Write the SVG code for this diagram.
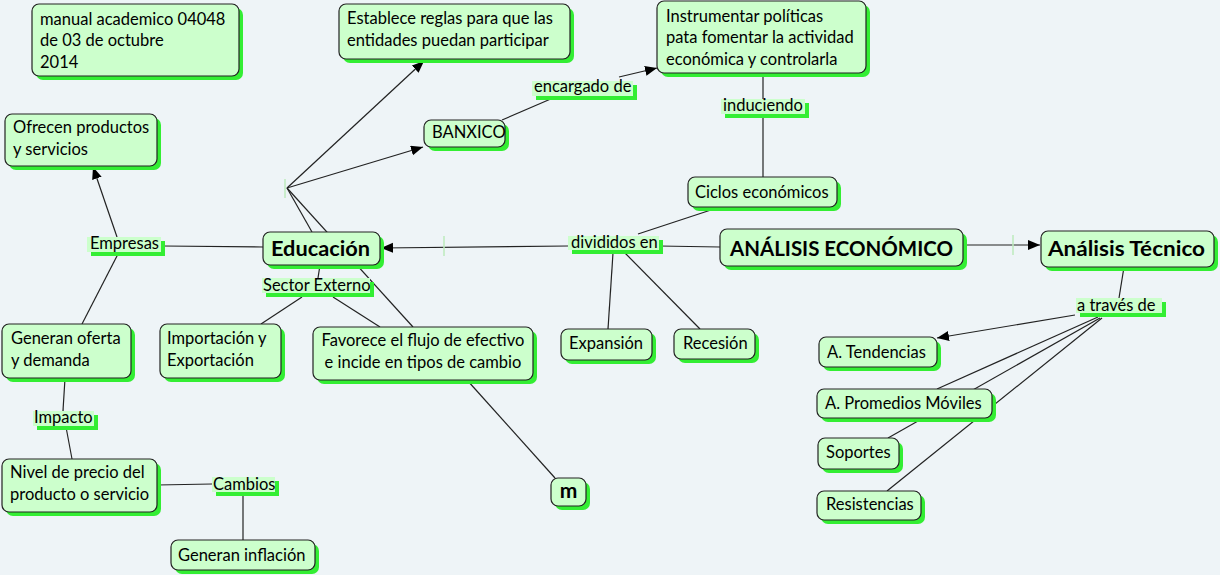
<svg xmlns="http://www.w3.org/2000/svg" width="1220" height="575" viewBox="0 0 1220 575">
<style>
.bg{fill:#EEF4F7}
.sh{fill:#33EE33}
.box{fill:#CCFFCC;stroke:#222;stroke-width:1.2}
.lb{fill:#CCFFCC}
.t{font-family:Lato,"Liberation Sans",sans-serif;font-size:16.5px;fill:#000}
.b{font-family:Lato,"Liberation Sans",sans-serif;font-size:21px;font-weight:bold;fill:#000}
.c{text-anchor:middle}
.ln{stroke:#222;stroke-width:1.2;fill:none}
.tick{stroke:#BDEBBD;stroke-width:1.5}
</style>
<defs>
<marker id="ar" markerUnits="userSpaceOnUse" markerWidth="13" markerHeight="11" refX="12" refY="5" orient="auto">
<path d="M0,0 L12,5 L0,10 z" fill="#000"/>
</marker>
</defs>
<rect class="bg" x="0" y="0" width="1220" height="575"/>

<g id="connectors">
<line class="ln" x1="720" y1="247" x2="659" y2="246"/>
<line class="ln" x1="568" y1="246" x2="381" y2="248" marker-end="url(#ar)"/>
<line class="tick" x1="444" y1="236" x2="444" y2="256"/>
<line class="ln" x1="613" y1="253" x2="608" y2="329"/>
<line class="ln" x1="625" y1="253" x2="700" y2="329"/>
<line class="ln" x1="720" y1="207" x2="638" y2="234"/>
<line class="ln" x1="763" y1="177" x2="763" y2="117"/>
<line class="ln" x1="763" y1="99" x2="763" y2="73"/>
<line class="ln" x1="502" y1="120" x2="553" y2="98"/>
<line class="ln" x1="619" y1="77" x2="657" y2="68" marker-end="url(#ar)"/>
<line class="ln" x1="287" y1="188" x2="424" y2="61" marker-end="url(#ar)"/>
<line class="ln" x1="287" y1="188" x2="423" y2="147" marker-end="url(#ar)"/>
<line class="ln" x1="287" y1="188" x2="312" y2="232"/>
<line class="ln" x1="287" y1="188" x2="413" y2="327"/>
<line class="tick" x1="285" y1="179" x2="285" y2="198"/>
<line class="ln" x1="467" y1="380" x2="555" y2="478"/>
<line class="ln" x1="263" y1="247" x2="163" y2="246"/>
<line class="ln" x1="117" y1="237" x2="93" y2="167" marker-end="url(#ar)"/>
<line class="ln" x1="118" y1="254" x2="82" y2="324"/>
<line class="ln" x1="320" y1="265" x2="318" y2="278"/>
<line class="ln" x1="302" y1="297" x2="261" y2="324"/>
<line class="ln" x1="333" y1="297" x2="380" y2="327"/>
<line class="ln" x1="65" y1="378" x2="63" y2="411"/>
<line class="ln" x1="66" y1="427" x2="72" y2="459"/>
<line class="ln" x1="157" y1="485" x2="212" y2="484"/>
<line class="ln" x1="243" y1="493" x2="243" y2="540"/>
<line class="ln" x1="963" y1="245" x2="1040" y2="245" marker-end="url(#ar)"/>
<line class="tick" x1="1013" y1="235" x2="1013" y2="255"/>
<line class="ln" x1="1124" y1="267" x2="1119" y2="298"/>
<line class="ln" x1="1075" y1="315" x2="937" y2="338" marker-end="url(#ar)"/>
<line class="ln" x1="1098" y1="317" x2="937" y2="389"/>
<line class="ln" x1="1100" y1="318" x2="888" y2="438"/>
<line class="ln" x1="1102" y1="318" x2="887" y2="491"/>
</g>

<g id="manual">
<rect class="sh" x="36" y="8" width="207" height="72" rx="7"/>
<rect class="box" x="32" y="4" width="207" height="72" rx="7"/>
<text class="t" x="40" y="25">manual academico 04048</text>
<text class="t" x="40" y="46">de 03 de octubre</text>
<text class="t" x="40" y="68">2014</text>
</g>
<g id="ofrecen">
<rect class="sh" x="9" y="118" width="152" height="52" rx="7"/>
<rect class="box" x="5" y="114" width="152" height="52" rx="7"/>
<text class="t" x="13" y="133">Ofrecen productos</text>
<text class="t" x="13" y="155">y servicios</text>
</g>
<g id="establece">
<rect class="sh" x="343" y="8" width="231" height="55" rx="7"/>
<rect class="box" x="339" y="4" width="231" height="55" rx="7"/>
<text class="t" x="347" y="24">Establece reglas para que las</text>
<text class="t" x="347" y="46">entidades puedan participar</text>
</g>
<g id="instrumentar">
<rect class="sh" x="661" y="5" width="209" height="72" rx="7"/>
<rect class="box" x="657" y="1" width="209" height="72" rx="7"/>
<text class="t" x="666" y="22">Instrumentar políticas</text>
<text class="t" x="666" y="43">pata fomentar la actividad</text>
<text class="t" x="666" y="65">económica y controlarla</text>
</g>
<g id="banxico">
<rect class="sh" x="428" y="124" width="81" height="27" rx="7"/>
<rect class="box" x="424" y="120" width="81" height="27" rx="7"/>
<text class="t" x="432" y="138">BANXICO</text>
</g>
<g id="encargado">
<rect class="sh" x="536" y="85" width="101" height="15"/>
<rect class="lb" x="532" y="81" width="101" height="15"/>
<text class="t" x="534" y="92">encargado de</text>
</g>
<g id="induciendo">
<rect class="sh" x="725" y="103" width="84" height="15"/>
<rect class="lb" x="721" y="99" width="84" height="15"/>
<text class="t" x="723" y="111">induciendo</text>
</g>
<g id="ciclos">
<rect class="sh" x="692" y="181" width="149" height="30" rx="7"/>
<rect class="box" x="688" y="177" width="149" height="30" rx="7"/>
<text class="t" x="695" y="198">Ciclos económicos</text>
</g>
<g id="divididos">
<rect class="sh" x="572" y="240" width="91" height="14"/>
<rect class="lb" x="568" y="236" width="91" height="14"/>
<text class="t" x="571" y="248">divididos en</text>
</g>
<g id="analisis-economico">
<rect class="sh" x="724" y="233" width="243" height="37" rx="7"/>
<rect class="box" x="720" y="229" width="243" height="37" rx="7"/>
<text class="b" x="730" y="256" textLength="223" lengthAdjust="spacingAndGlyphs">ANÁLISIS ECONÓMICO</text>
</g>
<g id="analisis-tecnico">
<rect class="sh" x="1045" y="235" width="173" height="36" rx="7"/>
<rect class="box" x="1041" y="231" width="173" height="36" rx="7"/>
<text class="b" x="1048" y="256" textLength="157" lengthAdjust="spacingAndGlyphs">Análisis Técnico</text>
</g>
<g id="educacion">
<rect class="sh" x="267" y="236" width="117" height="33" rx="7"/>
<rect class="box" x="263" y="232" width="117" height="33" rx="7"/>
<text class="b" x="271" y="256" textLength="99" lengthAdjust="spacingAndGlyphs">Educación</text>
</g>
<g id="empresas">
<rect class="sh" x="91" y="241" width="74" height="15"/>
<rect class="lb" x="87" y="237" width="74" height="15"/>
<text class="t" x="90" y="249">Empresas</text>
</g>
<g id="sector-externo">
<rect class="sh" x="266" y="282" width="108" height="15"/>
<rect class="lb" x="262" y="278" width="108" height="15"/>
<text class="t" x="263" y="291">Sector Externo</text>
</g>
<g id="generan-oferta">
<rect class="sh" x="6" y="328" width="129" height="54" rx="7"/>
<rect class="box" x="2" y="324" width="129" height="54" rx="7"/>
<text class="t" x="11" y="344">Generan oferta</text>
<text class="t" x="11" y="366">y demanda</text>
</g>
<g id="importacion">
<rect class="sh" x="164" y="328" width="121" height="54" rx="7"/>
<rect class="box" x="160" y="324" width="121" height="54" rx="7"/>
<text class="t" x="167" y="344">Importación y</text>
<text class="t" x="167" y="366">Exportación</text>
</g>
<g id="favorece">
<rect class="sh" x="317" y="331" width="220" height="53" rx="7"/>
<rect class="box" x="313" y="327" width="220" height="53" rx="7"/>
<text class="t c" x="423" y="346">Favorece el flujo de efectivo</text>
<text class="t c" x="423" y="368">e incide en tipos de cambio</text>
</g>
<g id="expansion">
<rect class="sh" x="565" y="333" width="91" height="31" rx="7"/>
<rect class="box" x="561" y="329" width="91" height="31" rx="7"/>
<text class="t" x="569" y="349">Expansión</text>
</g>
<g id="recesion">
<rect class="sh" x="678" y="333" width="81" height="30" rx="7"/>
<rect class="box" x="674" y="329" width="81" height="30" rx="7"/>
<text class="t" x="683" y="349">Recesión</text>
</g>
<g id="m">
<rect class="sh" x="555" y="482" width="35" height="28" rx="7"/>
<rect class="box" x="551" y="478" width="35" height="28" rx="7"/>
<text class="b c" x="568.5" y="498">m</text>
</g>
<g id="impacto">
<rect class="sh" x="37" y="415" width="61" height="15"/>
<rect class="lb" x="33" y="411" width="61" height="15"/>
<text class="t" x="34" y="423">Impacto</text>
</g>
<g id="nivel">
<rect class="sh" x="6" y="463" width="155" height="53" rx="7"/>
<rect class="box" x="2" y="459" width="155" height="53" rx="7"/>
<text class="t" x="10" y="478">Nivel de precio del</text>
<text class="t" x="10" y="500">producto o servicio</text>
</g>
<g id="cambios">
<rect class="sh" x="216" y="481" width="63" height="15"/>
<rect class="lb" x="212" y="477" width="63" height="15"/>
<text class="t" x="213" y="490">Cambios</text>
</g>
<g id="inflacion">
<rect class="sh" x="175" y="544" width="144" height="30" rx="7"/>
<rect class="box" x="171" y="540" width="144" height="30" rx="7"/>
<text class="t" x="178" y="561">Generan inflación</text>
</g>
<g id="a-traves">
<rect class="sh" x="1080" y="302" width="86" height="15"/>
<rect class="lb" x="1076" y="298" width="86" height="15"/>
<text class="t" x="1077" y="311">a través de</text>
</g>
<g id="tendencias">
<rect class="sh" x="823" y="341" width="118" height="30" rx="7"/>
<rect class="box" x="819" y="337" width="118" height="30" rx="7"/>
<text class="t" x="827" y="358">A. Tendencias</text>
</g>
<g id="promedios">
<rect class="sh" x="821" y="393" width="175" height="29" rx="7"/>
<rect class="box" x="817" y="389" width="175" height="29" rx="7"/>
<text class="t" x="825" y="409">A. Promedios Móviles</text>
</g>
<g id="soportes">
<rect class="sh" x="822" y="442" width="81" height="31" rx="7"/>
<rect class="box" x="818" y="438" width="81" height="31" rx="7"/>
<text class="t" x="826" y="458">Soportes</text>
</g>
<g id="resistencias">
<rect class="sh" x="821" y="495" width="104" height="29" rx="7"/>
<rect class="box" x="817" y="491" width="104" height="29" rx="7"/>
<text class="t" x="826" y="510">Resistencias</text>
</g>
</svg>
